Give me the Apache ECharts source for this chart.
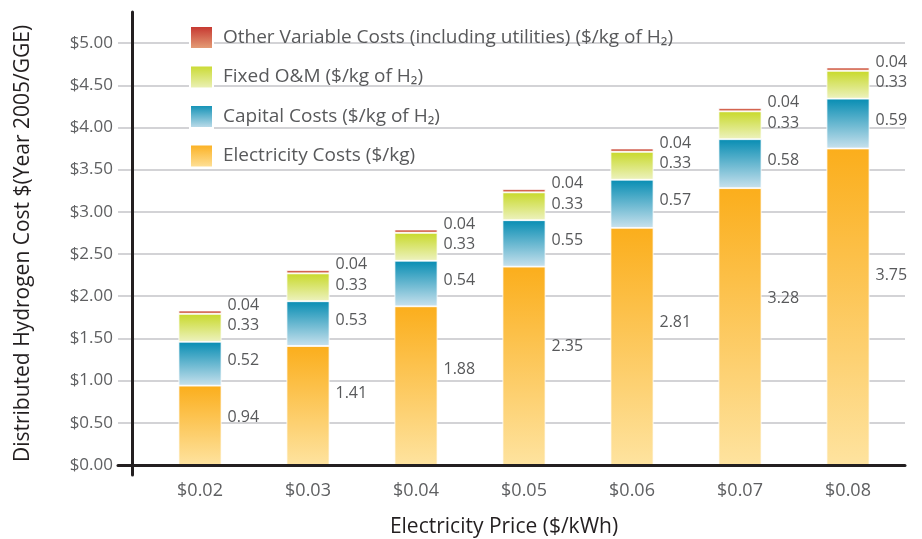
<!DOCTYPE html>
<html>
<head>
<meta charset="utf-8">
<script src="https://cdn.jsdelivr.net/npm/echarts@6/dist/echarts.min.js"></script>
<style>
html,body{margin:0;padding:0;background:#fff;}
#chart{width:922px;height:539px;}
</style>
</head>
<body>
<div id="chart"></div>
<script>
const categories = ['$0.02', '$0.03', '$0.04', '$0.05', '$0.06', '$0.07', '$0.08'];
const electricity = [0.94, 1.41, 1.88, 2.35, 2.81, 3.28, 3.75];
const capital = [0.52, 0.53, 0.54, 0.55, 0.57, 0.58, 0.59];
const fixedOM = [0.33, 0.33, 0.33, 0.33, 0.33, 0.33, 0.33];
const otherVar = [0.04, 0.04, 0.04, 0.04, 0.04, 0.04, 0.04];
const yTicks = [0, 0.5, 1, 1.5, 2, 2.5, 3, 3.5, 4, 4.5, 5];
const yMin = 0, yMax = 5, yStep = 0.5;

const names = {
  other: 'Other Variable Costs (including utilities) ($/kg of H\u2082)',
  fixed: 'Fixed O&M ($/kg of H\u2082)',
  capital: 'Capital Costs ($/kg of H\u2082)',
  elec: 'Electricity Costs ($/kg)'
};

const FONT = "'Open Sans', 'DejaVu Sans', sans-serif";
const grad = (top, bottom) => new echarts.graphic.LinearGradient(0, 0, 0, 1, [
  { offset: 0, color: top }, { offset: 1, color: bottom }
]);

const labelBase = {
  show: true,
  color: '#58595b',
  fontSize: 16,
  fontFamily: FONT,
  formatter: p => Number(p.value).toFixed(2)
};

function barSeries(name, data, top, bottom, label) {
  return {
    name: name,
    type: 'bar',
    stack: 'total',
    xAxisIndex: 0,
    yAxisIndex: 0,
    barWidth: 43,
    data: data,
    itemStyle: { color: grad(top, bottom), borderColor: '#ffffff', borderWidth: 0.8 },
    label: Object.assign({}, labelBase, label),
    emphasis: { disabled: true },
    z: 3
  };
}

const chart = echarts.init(document.getElementById('chart'), null, { renderer: 'canvas' });
chart.setOption({
  animation: false,
  backgroundColor: '#ffffff',
  title: {
    text: 'Electricity Price ($/kWh)',
    left: 499,
    textAlign: 'center',
    top: 512,
    textStyle: { fontFamily: FONT, fontSize: 21, fontWeight: 'normal', color: '#231f20' }
  },
  legend: {
    orient: 'vertical',
    left: 189,
    top: 25,
    padding: 0,
    itemWidth: 23,
    itemHeight: 23,
    itemGap: 14.5,
    icon: 'rect',
    data: [names.other, names.fixed, names.capital, names.elec],
    textStyle: { fontFamily: FONT, fontSize: 19, lineHeight: 23, color: '#58595b', padding: [0, 0, 0, 5] },
    selectedMode: false
  },
  grid: [
    { left: 146, right: 20, top: 43, bottom: 74 },
    { left: 118, right: 17, top: 12, bottom: 64 }
  ],
  xAxis: [
    {
      type: 'category',
      gridIndex: 0,
      data: categories,
      axisLine: { show: false },
      axisTick: { show: false },
      axisLabel: { color: '#5f6062', fontSize: 18, fontFamily: FONT, margin: 17 }
    },
    {
      type: 'value',
      gridIndex: 1,
      min: 0,
      max: 1,
      axisLine: { show: true, onZero: true, lineStyle: { color: '#231f20', width: 3 } },
      axisTick: { show: false },
      axisLabel: { show: false },
      splitLine: { show: false },
      z: 5
    }
  ],
  yAxis: [
    {
      type: 'value',
      gridIndex: 0,
      min: yMin,
      max: yMax,
      interval: yStep,
      offset: 14,
      axisLine: { show: false },
      axisTick: { show: false },
      axisLabel: {
        color: '#5f6062', fontSize: 17, fontFamily: FONT, margin: 19,
        formatter: v => '$' + v.toFixed(2)
      },
      splitLine: { show: false }
    },
    {
      type: 'value',
      gridIndex: 1,
      min: -0.12,
      max: 5.37,
      offset: -14,
      name: 'Distributed Hydrogen Cost $(Year 2005/GGE)',
      nameLocation: 'middle',
      nameGap: 98,
      nameTextStyle: { fontFamily: FONT, fontSize: 21, color: '#231f20' },
      axisLine: { show: true, lineStyle: { color: '#231f20', width: 3 } },
      axisTick: { show: false, customValues: yTicks },
      axisLabel: { show: false, customValues: yTicks },
      splitLine: { show: true, lineStyle: { color: '#c4c4c8', width: 1.5 } },
      z: 1
    }
  ],
  series: [
    barSeries(names.elec, electricity, '#fbae1c', '#fee39f',
      { position: ['100%', '40%'], offset: [6, 0], align: 'left', verticalAlign: 'middle' }),
    barSeries(names.capital, capital, '#078db3', '#c8e1ed',
      { position: 'right', distance: 6, offset: [0, -3] }),
    barSeries(names.fixed, fixedOM, '#c8d92a', '#edf2bf',
      { position: 'right', distance: 6, offset: [0, -2] }),
    barSeries(names.other, otherVar, '#c4302b', '#e6a57c',
      { position: 'right', distance: 6, offset: [0, -7] })
  ]
});
</script>
</body>
</html>
